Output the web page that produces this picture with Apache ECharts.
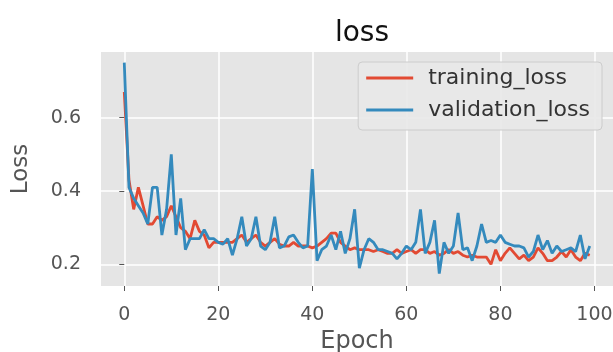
<!DOCTYPE html>
<html>
<head>
<meta charset="utf-8">
<script src="https://cdn.jsdelivr.net/npm/echarts@6/dist/echarts.min.js"></script>
<style>
  html, body { margin: 0; padding: 0; background: #fff; }
  #chart { width: 613px; height: 352px; }
</style>
</head>
<body>
<div id="chart"></div>
<script>
// values
const epochs = Array.from({ length: 100 }, (_, i) => i);
const trainingLoss = [
  0.67, 0.43, 0.35, 0.41, 0.36, 0.31, 0.31, 0.33, 0.32, 0.33,
  0.36, 0.33, 0.30, 0.29, 0.27, 0.32, 0.29, 0.28, 0.245, 0.26,
  0.26, 0.26, 0.26, 0.26, 0.27, 0.28, 0.26, 0.27, 0.28, 0.26,
  0.25, 0.26, 0.27, 0.255, 0.25, 0.25, 0.26, 0.25, 0.25, 0.25,
  0.245, 0.25, 0.26, 0.27, 0.285, 0.285, 0.26, 0.25, 0.24, 0.245,
  0.24, 0.24, 0.24, 0.235, 0.24, 0.235, 0.23, 0.23, 0.24, 0.23,
  0.235, 0.24, 0.23, 0.24, 0.24, 0.23, 0.235, 0.225, 0.23, 0.24,
  0.23, 0.235, 0.225, 0.22, 0.225, 0.22, 0.22, 0.22, 0.20, 0.24,
  0.21, 0.23, 0.245, 0.23, 0.215, 0.225, 0.21, 0.22, 0.245, 0.23,
  0.21, 0.21, 0.22, 0.235, 0.22, 0.24, 0.22, 0.21, 0.23, 0.225
];
const validationLoss = [
  0.75, 0.41, 0.38, 0.36, 0.34, 0.31, 0.41, 0.41, 0.28, 0.35,
  0.50, 0.28, 0.38, 0.24, 0.27, 0.27, 0.27, 0.295, 0.27, 0.27,
  0.26, 0.255, 0.27, 0.225, 0.27, 0.33, 0.25, 0.27, 0.33, 0.25,
  0.24, 0.26, 0.33, 0.245, 0.25, 0.275, 0.28, 0.26, 0.245, 0.25,
  0.46, 0.21, 0.24, 0.25, 0.28, 0.24, 0.29, 0.23, 0.27, 0.35,
  0.19, 0.24, 0.27, 0.26, 0.24, 0.24, 0.235, 0.23, 0.215, 0.23,
  0.25, 0.24, 0.26, 0.35, 0.23, 0.26, 0.32, 0.175, 0.26, 0.23,
  0.25, 0.34, 0.24, 0.245, 0.21, 0.25, 0.31, 0.26, 0.265, 0.26,
  0.28, 0.26, 0.255, 0.25, 0.25, 0.245, 0.22, 0.235, 0.28, 0.24,
  0.265, 0.23, 0.25, 0.235, 0.24, 0.245, 0.235, 0.28, 0.215, 0.25
];
const xTicks = [0, 20, 40, 60, 80, 100];
const yTicks = [0.2, 0.4, 0.6];

const font = 'DejaVu Sans';
const chart = echarts.init(document.getElementById('chart'), null, { renderer: 'canvas' });

const option = {
  backgroundColor: '#ffffff',
  animation: false,
  title: {
    text: 'loss',
    left: 357,
    textAlign: 'center',
    top: 15,
    textStyle: { fontFamily: font, fontSize: 28, fontWeight: 'normal', color: '#111' }
  },
  legend: {
    right: 11,
    top: 62,
    orient: 'vertical',
    icon: 'rect',
    itemWidth: 47,
    itemHeight: 3,
    itemGap: 10,
    padding: [5, 12, 9, 8],
    backgroundColor: 'rgba(232,232,232,0.9)',
    borderColor: '#cccccc',
    borderWidth: 1,
    borderRadius: 4,
    textStyle: { fontFamily: font, fontSize: 22, lineHeight: 22, color: '#333', padding: [0, 0, 0, 10] },
    data: ['training_loss', 'validation_loss']
  },
  grid: {
    left: 101,
    right: 0,
    top: 52,
    bottom: 66,
    outerBoundsMode: 'none',
    show: true,
    backgroundColor: '#e5e5e5',
    borderWidth: 0
  },
  xAxis: {
    type: 'value',
    min: -4.95,
    max: 103.95,
    name: 'Epoch',
    nameLocation: 'middle',
    nameGap: 36,
    nameTextStyle: { fontFamily: font, fontSize: 24, color: '#555' },
    axisLine: { show: false },
    axisTick: { show: true, customValues: xTicks, length: 5, lineStyle: { color: '#555' } },
    axisLabel: { customValues: xTicks, fontFamily: font, fontSize: 19, color: '#555', margin: 20 },
    splitLine: { show: true, lineStyle: { color: '#ffffff', width: 1.5 } }
  },
  yAxis: {
    type: 'value',
    min: 0.141,
    max: 0.779,
    name: 'Loss',
    nameLocation: 'middle',
    nameGap: 68,
    nameTextStyle: { fontFamily: font, fontSize: 23, color: '#555' },
    axisLine: { show: false },
    axisTick: { show: true, customValues: yTicks, length: 5, lineStyle: { color: '#555' } },
    axisLabel: {
      customValues: yTicks,
      fontFamily: font,
      fontSize: 19,
      color: '#555',
      margin: 20,
      formatter: v => v.toFixed(1)
    },
    splitLine: { show: true, lineStyle: { color: '#ffffff', width: 1.5 } }
  },
  series: [
    {
      name: 'training_loss',
      type: 'line',
      data: epochs.map((e, i) => [e, trainingLoss[i]]),
      showSymbol: false,
      color: '#E24A33',
      lineStyle: { width: 2.8 }
    },
    {
      name: 'validation_loss',
      type: 'line',
      data: epochs.map((e, i) => [e, validationLoss[i]]),
      showSymbol: false,
      color: '#348ABD',
      lineStyle: { width: 2.8 }
    }
  ]
};

chart.setOption(option);
</script>
</body>
</html>
